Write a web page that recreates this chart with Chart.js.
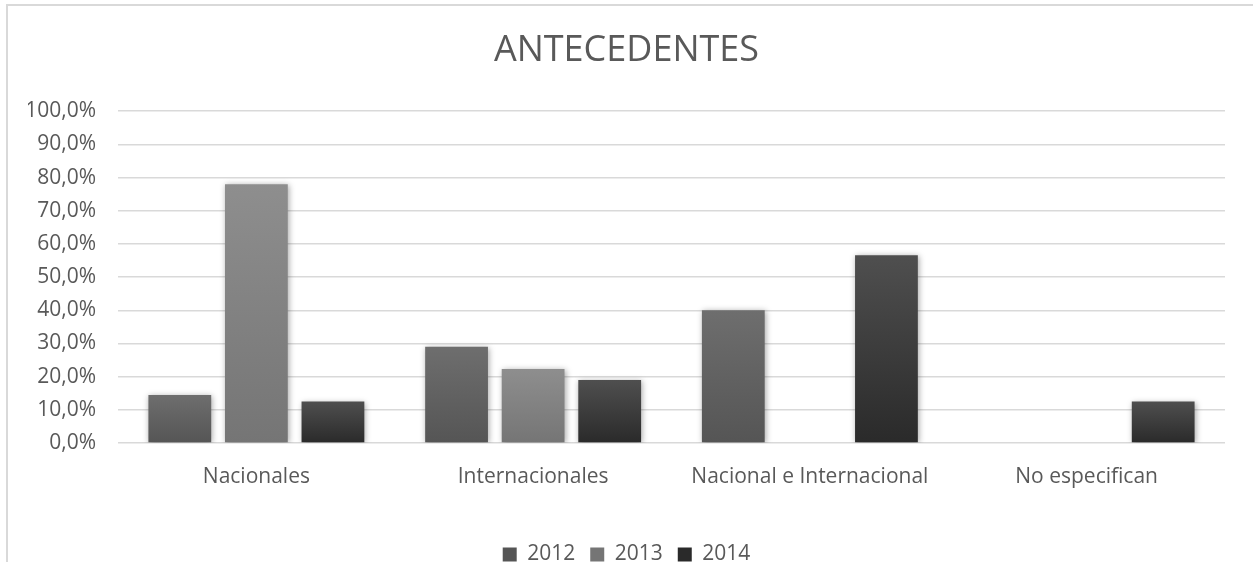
<!DOCTYPE html>
<html>
<head>
<meta charset="utf-8">
<script src="https://cdn.jsdelivr.net/npm/chart.js@4"></script>
<style>
  html, body { margin: 0; padding: 0; background: #fff; overflow: hidden; }
  #wrap { position: relative; width: 1253px; height: 562px; }
  #frame { position: absolute; left: 6px; top: 4px; width: 1300px; height: 700px;
           border-left: 2px solid #d9d9d9; border-top: 2px solid #d9d9d9; pointer-events: none; }
</style>
</head>
<body>
<div id="wrap">
  <canvas id="chart" width="1253" height="562"></canvas>
  <div id="frame"></div>
</div>
<script>
// Chart data
const categories = ["Nacionales", "Internacionales", "Nacional e Internacional", "No especifican"];
const years = ["2012", "2013", "2014"];
const values2012 = [0.145, 0.29, 0.40, 0];
const values2013 = [0.78, 0.223, 0, 0];
const values2014 = [0.125, 0.19, 0.566, 0.125];

// gradient colours per series (top, bottom)
const shades = [
  ["#6e6e6e", "#555555"],
  ["#8e8e8e", "#757575"],
  ["#4f4f4f", "#2a2a2a"]
];

function barFill(i) {
  return function (ctx) {
    const chart = ctx.chart;
    if (!chart.chartArea || !ctx.parsed) return shades[i][1];
    const y = chart.scales.y;
    const top = y.getPixelForValue(ctx.parsed.y);
    const bottom = y.getPixelForValue(0);
    if (bottom - top < 1) return shades[i][1];
    const g = chart.ctx.createLinearGradient(0, top, 0, bottom);
    g.addColorStop(0, shades[i][0]);
    g.addColorStop(1, shades[i][1]);
    return g;
  };
}

// soft shadow under the bars
const barShadow = {
  id: "barShadow",
  beforeDatasetsDraw(chart) {
    const c = chart.ctx;
    c.save();
    c.shadowColor = "rgba(0,0,0,0.35)";
    c.shadowBlur = 6;
    c.shadowOffsetX = 1;
    c.shadowOffsetY = 1;
  },
  afterDatasetsDraw(chart) {
    chart.ctx.restore();
  }
};

const font = "'Open Sans', 'Liberation Sans', sans-serif";
const textColor = "#595959";

new Chart(document.getElementById("chart"), {
  type: "bar",
  data: {
    labels: categories,
    datasets: [values2012, values2013, values2014].map((v, i) => ({
      label: years[i],
      data: v,
      backgroundColor: barFill(i),
      borderWidth: 0,
      categoryPercentage: 0.83,
      barPercentage: 0.82
    }))
  },
  options: {
    responsive: false,
    animation: false,
    layout: { padding: { left: 28, right: 28, top: 0, bottom: -13 } },
    plugins: {
      title: {
        display: true,
        text: "ANTECEDENTES",
        color: textColor,
        font: { family: font, size: 36, weight: "normal" },
        padding: { top: 29, bottom: 39 }
      },
      legend: {
        position: "bottom",
        labels: {
          color: textColor,
          font: { family: font, size: 21 },
          boxWidth: 14,
          boxHeight: 14,
          padding: 15
        }
      },
      tooltip: { enabled: false }
    },
    scales: {
      x: {
        afterFit(scale) { scale.height = 86; },
        grid: { display: false, drawTicks: false },
        border: { display: false },
        ticks: { color: textColor, font: { family: font, size: 21 }, padding: 21, maxRotation: 0 }
      },
      y: {
        min: 0,
        max: 1,
        afterFit(scale) { scale.width = 90; },
        grid: { color: "#d9d9d9", lineWidth: 1.5, drawTicks: false },
        border: { display: false },
        ticks: {
          stepSize: 0.1,
          padding: 22,
          color: textColor,
          font: { family: font, size: 21 },
          callback: v => (v * 100).toFixed(1).replace(".", ",") + "%"
        }
      }
    }
  },
  plugins: [barShadow]
});
</script>
</body>
</html>
